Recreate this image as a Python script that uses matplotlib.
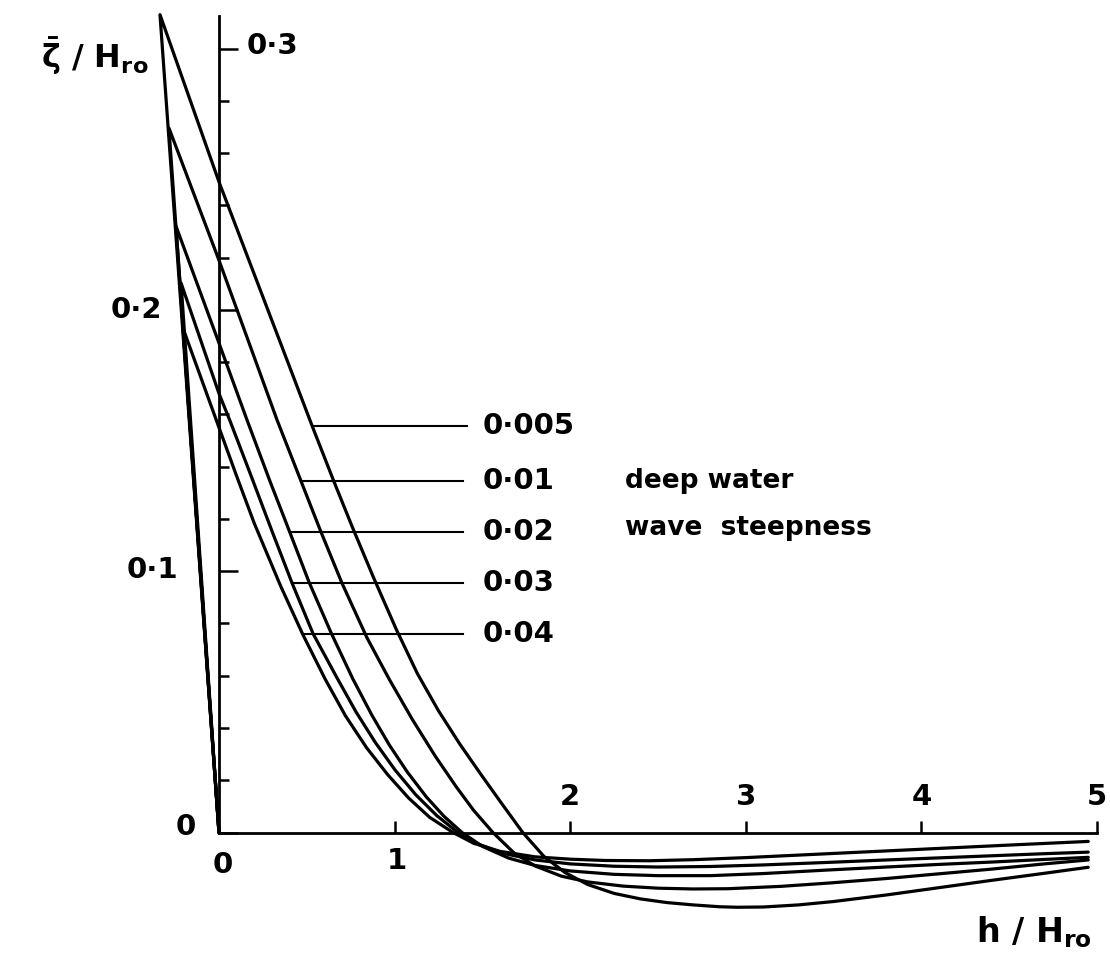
import numpy as np
import matplotlib
matplotlib.use('Agg')
import matplotlib.pyplot as plt

plt.rcParams['font.family'] = ['DejaVu Sans']
plt.rcParams['mathtext.default'] = 'regular'
plt.rcParams['mathtext.fontset'] = 'dejavusans'

# deep water wave steepness of each curve
steepness = ['0·005', '0·01', '0·02', '0·03', '0·04']

# run-up point on the beach (left of h = 0) for each curve
peak_h = [-0.336, -0.285, -0.245, -0.216, -0.205]
peak_z = [0.313, 0.2696, 0.2321, 0.2103, 0.193]

# mean water level profiles, seaward of h = 0
h_005 = [0.0, 0.2, 0.4, 0.53, 0.65, 0.76, 0.88, 1.01, 1.13, 1.25, 1.37, 1.49, 1.61, 1.73,
         1.85, 1.97, 2.1, 2.25, 2.4, 2.55, 2.7, 2.85, 2.95, 3.1, 3.3, 3.5, 3.8, 4.1, 4.4, 4.7, 4.95]
z_005 = [0.249, 0.2138, 0.1786, 0.1557, 0.1351, 0.1168, 0.0976, 0.0777, 0.0608, 0.0466, 0.034,
         0.0224, 0.0111, 0.0,
         -0.0091, -0.0153, -0.0199, -0.0233, -0.0254, -0.0268, -0.0277, -0.0284, -0.0286, -0.0285,
         -0.0277, -0.0264, -0.0239, -0.0211, -0.0183, -0.0156, -0.0133]

h_01 = [0.0, 0.15, 0.33, 0.473, 0.575, 0.70, 0.843, 0.97, 1.1, 1.23, 1.35, 1.45, 1.56,
        1.68, 1.8, 1.95, 2.1, 2.3, 2.5, 2.7, 2.9, 3.2, 3.48, 3.8, 4.1, 4.4, 4.7, 4.95]
z_01 = [0.219, 0.1913, 0.158, 0.1335, 0.116, 0.0955, 0.0745, 0.0586, 0.0434, 0.0294, 0.0176,
        0.0085, 0.0,
        -0.0078, -0.0128, -0.0167, -0.0189, -0.0205, -0.0213, -0.0216, -0.0215, -0.0206, -0.0193,
        -0.0176, -0.0158, -0.014, -0.012, -0.0105]

h_02 = [0.0, 0.159, 0.29, 0.404, 0.513, 0.638, 0.763, 0.87, 0.97, 1.071, 1.18, 1.28, 1.384,
        1.5, 1.65, 1.8, 2.0, 2.25, 2.5, 2.8, 3.1, 3.48, 3.8, 4.1, 4.4, 4.7, 4.95]
z_02 = [0.1873, 0.158, 0.1345, 0.1148, 0.0958, 0.0765, 0.0587, 0.045, 0.0335, 0.0233, 0.0137,
        0.0063, 0.0,
        -0.0053, -0.0098, -0.0126, -0.0147, -0.016, -0.0165, -0.0165, -0.0157, -0.0143, -0.0132,
        -0.0122, -0.0113, -0.0103, -0.0095]

h_03 = [0.0, 0.063, 0.18, 0.305, 0.416, 0.535, 0.672, 0.78, 0.89, 1.002, 1.12, 1.24, 1.361,
        1.48, 1.62, 1.8, 2.0, 2.25, 2.5, 2.8, 3.1, 3.48, 3.8, 4.1, 4.4, 4.7, 4.95]
z_03 = [0.168, 0.1575, 0.137, 0.1148, 0.0955, 0.0762, 0.0592, 0.0462, 0.0345, 0.024, 0.0145,
        0.0065, 0.0,
        -0.0045, -0.008, -0.0105, -0.012, -0.0129, -0.0132, -0.013, -0.0124, -0.0114, -0.0105,
        -0.0097, -0.0089, -0.0081, -0.0075]

h_04 = [0.0, 0.1, 0.2, 0.35, 0.478, 0.604, 0.72, 0.84, 0.96, 1.08, 1.2, 1.333,
        1.45, 1.6, 1.8, 2.0, 2.2, 2.45, 2.7, 3.0, 3.5, 4.0, 4.5, 4.95]
z_04 = [0.155, 0.1365, 0.1185, 0.0945, 0.0757, 0.0588, 0.0447, 0.0325, 0.0222, 0.0132, 0.0058, 0.0,
        -0.0041, -0.0072, -0.0093, -0.0102, -0.0107, -0.0108, -0.0104, -0.0096, -0.008, -0.0064,
        -0.0048, -0.0034]

profiles_h = [h_005, h_01, h_02, h_03, h_04]
profiles_z = [z_005, z_01, z_02, z_03, z_04]

# height at which each label's leader line leaves its curve
leader_z = [0.1556, 0.1345, 0.115, 0.0955, 0.076]

y_ticklabels = ['0', '0·1', '0·2', '0·3']
x_ticklabels = ['0', '1', '2', '3', '4', '5']


fig = plt.figure(figsize=(11.1, 9.59), dpi=100)
ax = fig.add_axes([0, 0, 1, 1])
ax.set_xlim(-1.247, 5.074)
ax.set_ylim(-0.0484, 0.3186)

num_font = dict(fontsize=21, fontweight='bold')

for i in range(len(steepness)):
    hx = [0.0, peak_h[i]] + profiles_h[i]
    zy = [0.0, peak_z[i]] + profiles_z[i]
    ax.plot(hx, zy, color='black', lw=2.3, solid_capstyle='round', solid_joinstyle='round')

    # leader line from the curve to its label
    h_arr = np.array(profiles_h[i])
    z_arr = np.array(profiles_z[i])
    pos = z_arr >= 0
    x0 = np.interp(leader_z[i], z_arr[pos][::-1], h_arr[pos][::-1])
    x1 = 1.415 if i == 0 else 1.39
    ax.plot([x0, x1], [leader_z[i], leader_z[i]], color='black', lw=1.5)
    ax.text(1.50, leader_z[i], steepness[i], ha='left', va='center', **num_font)

ax.text(2.31, 0.1345, 'deep water', fontsize=19, fontweight='bold', ha='left', va='center')
ax.text(2.31, 0.1165, 'wave  steepness', fontsize=19, fontweight='bold', ha='left', va='center')

# axes drawn through the origin
for s in ['top', 'right']:
    ax.spines[s].set_visible(False)
ax.spines['left'].set_position(('data', 0))
ax.spines['bottom'].set_position(('data', 0))
ax.spines['left'].set_bounds(0, 0.3125)
ax.spines['bottom'].set_bounds(0, 5)
ax.spines['left'].set_linewidth(2.0)
ax.spines['bottom'].set_linewidth(2.0)

ax.set_yticks([0, 0.1, 0.2, 0.3])
ax.set_yticks(np.arange(0.02, 0.3, 0.02), minor=True)
ax.set_xticks([1, 2, 3, 4, 5])
ax.tick_params(axis='y', which='major', direction='in', length=14, width=1.8,
               labelleft=False)
ax.tick_params(axis='y', which='minor', direction='in', length=7, width=1.8)
ax.tick_params(axis='x', which='major', direction='in', length=9, width=1.8,
               labelbottom=False)

# tick labels placed by hand, as in the original figure
ax.text(-0.19, 0.002, y_ticklabels[0], ha='center', va='center', **num_font)
ax.text(-0.233, 0.1005, y_ticklabels[1], ha='right', va='center', **num_font)
ax.text(-0.325, 0.2, y_ticklabels[2], ha='right', va='center', **num_font)
ax.text(0.16, 0.301, y_ticklabels[3], ha='left', va='center', **num_font)

ax.text(0.023, -0.0125, x_ticklabels[0], ha='center', va='center', **num_font)
ax.text(1.014, -0.011, x_ticklabels[1], ha='center', va='center', **num_font)
for k in range(2, 6):
    ax.text(k, 0.0136, x_ticklabels[k], ha='center', va='center', **num_font)

ax.text(4.97, -0.038, r'h / H$_{ro}$', fontsize=24, fontweight='bold', ha='right', va='center')
ax.text(-0.40, 0.297, r'$\bar{\zeta}$ / H$_{ro}$', fontsize=23, fontweight='bold',
        ha='right', va='center')

fig.savefig('out.png', dpi=100)
